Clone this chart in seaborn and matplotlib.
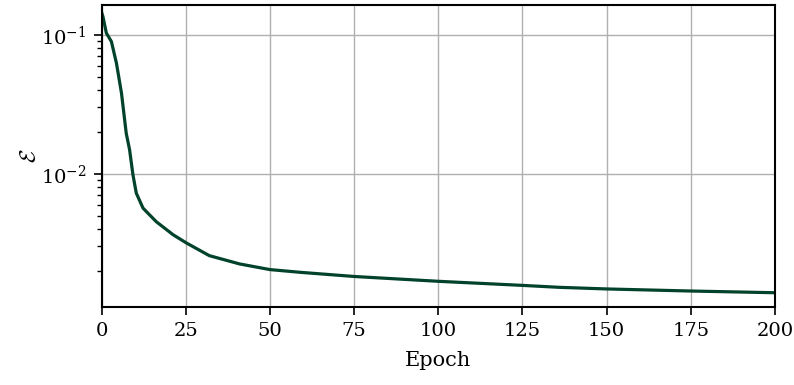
import numpy as np
import pandas as pd
import seaborn as sns
import matplotlib.pyplot as plt

# values
epochs = [0, 0.4, 1.4, 2.9, 4.4, 5.9, 7.3, 8.3, 9.3, 10.3, 12.3, 16.2, 21.2, 25.2,
          32, 41, 50, 59, 75, 100, 125, 136, 150, 175, 200]
errors = [0.145, 0.135, 0.103, 0.0895, 0.0625, 0.038, 0.0196, 0.0149, 0.00983,
          0.00724, 0.00565, 0.00452, 0.00364, 0.00317, 0.00257, 0.00224,
          0.00204, 0.00195, 0.00182, 0.00168, 0.00157, 0.00152, 0.00148,
          0.00143, 0.00139]

df = pd.DataFrame({'Epoch': epochs, 'Error': errors})

sns.set_style('ticks')
plt.rcParams['font.family'] = ['DejaVu Serif']
plt.rcParams['mathtext.fontset'] = 'cm'
plt.rcParams['text.color'] = 'black'
plt.rcParams['axes.labelcolor'] = 'black'
plt.rcParams['xtick.color'] = 'black'
plt.rcParams['ytick.color'] = 'black'

fig, ax = plt.subplots(figsize=(7.94, 3.85), dpi=100)
sns.lineplot(data=df, x='Epoch', y='Error', color='#00432a', linewidth=2.3, ax=ax)

ax.set_yscale('log')
ax.set_xlim(0, 200)
ax.set_ylim(0.0011, 0.164)
ax.set_xticks([0, 25, 50, 75, 100, 125, 150, 175, 200])
ax.grid(True, which='major', color='#b0b0b0', linewidth=1.0)
ax.set_xlabel('Epoch', fontsize=15, labelpad=8)
ax.set_ylabel(r'$\mathcal{E}$', fontsize=16, labelpad=0)
ax.tick_params(axis='both', which='major', labelsize=14, length=6, width=1.2, pad=5)
ax.tick_params(axis='y', which='minor', length=3.5, width=1.0)
for s in ax.spines.values():
    s.set_linewidth(1.5)
    s.set_color('black')

fig.subplots_adjust(left=0.128, right=0.976, top=0.987, bottom=0.203)
fig.savefig('out.png', dpi=100)
